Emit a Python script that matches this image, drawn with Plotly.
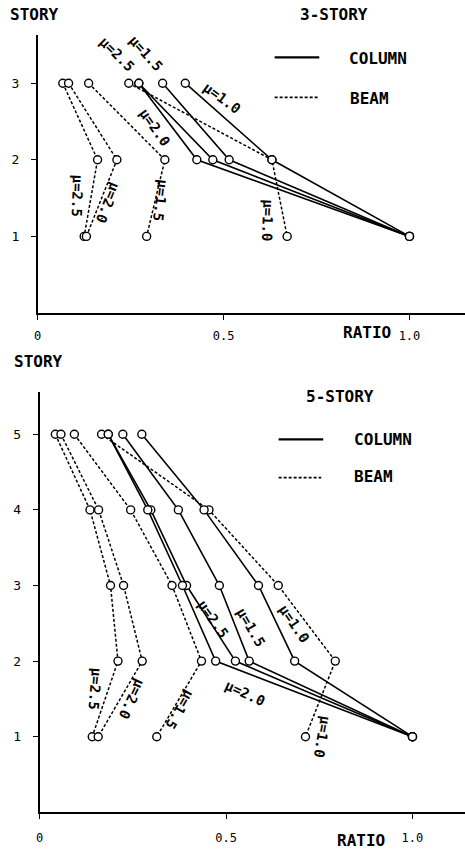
import plotly.graph_objects as go

# ---------------- data ----------------
STORIES_3 = [3, 2, 1]
COL3_MU10 = [0.397, 0.630, 1.0]
COL3_MU15 = [0.336, 0.515, 1.0]
COL3_MU20 = [0.272, 0.471, 1.0]
COL3_MU25 = [0.272, 0.428, 1.0]
BEAM3_MU10 = [0.245, 0.630, 0.671]
BEAM3_MU15 = [0.137, 0.342, 0.293]
BEAM3_MU20 = [0.083, 0.213, 0.131]
BEAM3_MU25 = [0.0675, 0.161, 0.125]

STORIES_5 = [5, 4, 3, 2, 1]
COL5_MU10 = [0.274, 0.441, 0.587, 0.684, 1.0]
COL5_MU15 = [0.223, 0.372, 0.482, 0.562, 1.0]
COL5_MU20 = [0.184, 0.290, 0.383, 0.472, 1.0]
COL5_MU25 = [0.184, 0.298, 0.394, 0.525, 1.0]
BEAM5_MU10 = [0.166, 0.454, 0.640, 0.793, 0.713]
BEAM5_MU15 = [0.093, 0.244, 0.355, 0.434, 0.314]
BEAM5_MU20 = [0.057, 0.158, 0.225, 0.275, 0.157]
BEAM5_MU25 = [0.042, 0.135, 0.190, 0.210, 0.141]

X_TICKS = [0, 0.5, 1.0]
X_TICK_TEXT = ["0", "0.5", "1.0"]
Y_TICKS_3 = [1, 2, 3]
Y_TICKS_5 = [1, 2, 3, 4, 5]

W, H = 465, 851
FONT = "DejaVu Sans Mono"


def P(px, py):
    return px / W, 1 - py / H


fig = go.Figure()


def add(xs, ys, dash, xa, ya, width):
    fig.add_trace(go.Scatter(
        x=xs, y=ys, mode="lines+markers", xaxis=xa, yaxis=ya,
        showlegend=False, hoverinfo="skip",
        line=dict(color="black", width=width, dash=dash),
        marker=dict(symbol="circle", size=8, color="white",
                    line=dict(color="black", width=1.4)),
    ))


DASH = "3px,2px"
for b in [BEAM3_MU25, BEAM3_MU20, BEAM3_MU15, BEAM3_MU10]:
    add(b, STORIES_3, DASH, "x", "y", 1.5)
for c in [COL3_MU25, COL3_MU20, COL3_MU15, COL3_MU10]:
    add(c, STORIES_3, "solid", "x", "y", 1.6)
for b in [BEAM5_MU25, BEAM5_MU20, BEAM5_MU15, BEAM5_MU10]:
    add(b, STORIES_5, DASH, "x2", "y2", 1.5)
for c in [COL5_MU25, COL5_MU20, COL5_MU15, COL5_MU10]:
    add(c, STORIES_5, "solid", "x2", "y2", 1.6)

axis_common = dict(showline=True, linecolor="black", linewidth=1.8,
                   showgrid=False, zeroline=False, ticks="outside",
                   ticklen=5, tickcolor="black", tickwidth=1.3)

fig.update_layout(
    width=W, height=H, margin=dict(l=0, r=0, t=0, b=0),
    paper_bgcolor="white", plot_bgcolor="white", showlegend=False,
    xaxis=dict(axis_common, domain=[34 / W, 1], range=[0, 431 / 375],
               anchor="y", tickvals=X_TICKS, ticktext=X_TICK_TEXT,
               ticklabelstandoff=6,
               tickfont=dict(family=FONT, size=12, color="black")),
    yaxis=dict(axis_common, domain=[1 - 313 / H, 1 - 35 / H],
               range=[0, 278 / 76.6], anchor="x", tickvals=Y_TICKS_3,
               ticklabelstandoff=9,
               tickfont=dict(family=FONT, size=13, color="black")),
    xaxis2=dict(axis_common, domain=[36 / W, 1], range=[0, 429 / 376],
                anchor="y2", tickvals=X_TICKS, ticktext=X_TICK_TEXT,
                ticklabelstandoff=8,
                tickfont=dict(family=FONT, size=12, color="black")),
    yaxis2=dict(axis_common, domain=[1 - 812.3 / H, 1 - 391.7 / H],
                range=[0, 420.6 / 75.6], anchor="x2", tickvals=Y_TICKS_5,
                ticklabelstandoff=9,
                tickfont=dict(family=FONT, size=13, color="black")),
)

annos = []


def text(s, px, py, size=15, bold=True, angle=0):
    x, y = P(px, py)
    t = f"<b>{s}</b>" if bold else s
    annos.append(dict(text=t, x=x, y=y, xref="paper", yref="paper",
                      xanchor="center", yanchor="middle", showarrow=False,
                      textangle=angle,
                      font=dict(family=FONT, size=size, color="black")))


# headings / legend texts
text("STORY", 31, 15, 16)
text("3-STORY", 333, 15, 16)
text("COLUMN", 377.5, 58.3, 16)
text("BEAM", 369, 98.3, 16)
text("RATIO", 366, 333, 16)
text("STORY", 35, 361.7, 16)
text("5-STORY", 339, 396.7, 16)
text("COLUMN", 382, 439, 16)
text("BEAM", 373, 476.7, 16)
text("RATIO", 360, 840, 16)

# mu labels, 3-story
MU = "\u03bc="
for s, px, py, ang in [
    ("2.5", 114, 54, 45), ("1.5", 143, 53, 48), ("1.0", 220, 98, 36),
    ("2.0", 152, 127, 55), ("2.5", 74, 196, 92), ("2.0", 105, 203, 112),
    ("1.5", 158, 200, 97), ("1.0", 266, 220, 92),
]:
    text(MU + s, px, py, 14, True, ang)

# mu labels, 5-story
for s, px, py, ang in [
    ("2.5", 211, 619, 55), ("1.5", 249, 627, 60), ("1.0", 293, 624, 56),
    ("2.0", 243, 693, 25), ("2.5", 92, 689, 95), ("2.0", 129, 699, 115),
    ("1.5", 177, 710, 120), ("1.0", 321, 737, 100),
]:
    text(MU + s, px, py, 14, True, ang)

fig.update_layout(annotations=annos)

# legend line samples
shapes = []
for (x0, x1, py, dash) in [
    (273, 318, 57.3, "solid"), (273, 317, 97.3, "3px,2px"),
    (277, 322, 439.3, "solid"), (277, 320, 477.7, "3px,2px"),
]:
    a0, b0 = P(x0, py)
    a1, _ = P(x1, py)
    shapes.append(dict(type="line", xref="paper", yref="paper",
                       x0=a0, x1=a1, y0=b0, y1=b0,
                       line=dict(color="black", width=2.2 if dash == "solid" else 1.8,
                                 dash=dash)))
fig.update_layout(shapes=shapes)

fig.write_html("out.html", config={"displayModeBar": False},
               post_script="document.body.style.margin='0';")
